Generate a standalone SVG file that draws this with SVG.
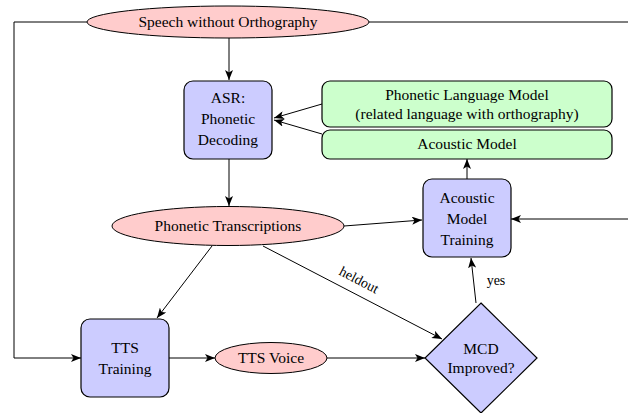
<svg xmlns="http://www.w3.org/2000/svg" width="628" height="413" viewBox="0 0 628 413">
<defs>
<marker id="arr" viewBox="0 0 10 8" refX="10" refY="4" markerWidth="10" markerHeight="8" markerUnits="userSpaceOnUse" orient="auto">
<path d="M0,0 L10,4 L0,8 L2.5,4 Z" fill="#000"/>
</marker>
</defs>
<style>
text{font-family:"Liberation Serif","DejaVu Serif",serif;font-size:15.5px;fill:#000;text-anchor:middle}
.ell{fill:#ffcccc;stroke:#000;stroke-width:1}
.box{fill:#ccccff;stroke:#000;stroke-width:1.2}
.grn{fill:#ccffcc;stroke:#000;stroke-width:1.2}
.c{fill:none;stroke:#000;stroke-width:1;marker-end:url(#arr)}
.p{fill:none;stroke:#000;stroke-width:1}
</style>
<g id="connectors">
<path class="p" d="M87,22 H14 V358"/>
<path class="c" d="M14,358 H81"/>
<path class="p" d="M369,22 H632 V219"/>
<path class="c" d="M632,219 H511"/>
<path class="c" d="M229,38 V80"/>
<path class="c" d="M322,104 L274,118"/>
<path class="c" d="M322,134 L274,120"/>
<path class="c" d="M229,159 V206"/>
<path class="c" d="M467,179 V159"/>
<path class="c" d="M344,226 L422,220"/>
<path class="c" d="M212,246 L157,318"/>
<path class="c" d="M263,246 L442,339"/>
<text x="357" y="284" transform="rotate(27.5 357 284)" style="font-size:14px">heldout</text>
<path class="c" d="M476,303 L471,258"/>
<text x="496" y="285" style="font-size:14px">yes</text>
<path class="c" d="M169,358 H215"/>
<path class="c" d="M327,358 H425"/>
</g>
<g id="speech">
<ellipse class="ell" cx="228" cy="22" rx="141" ry="16"/>
<text x="228" y="27">Speech without Orthography</text>
</g>
<g id="asr">
<rect class="box" x="184" y="81" width="88" height="78" rx="9"/>
<text x="228" y="103">ASR:</text>
<text x="228" y="124">Phonetic</text>
<text x="228" y="145">Decoding</text>
</g>
<g id="plm">
<rect class="grn" x="322" y="81" width="290" height="46" rx="8"/>
<text x="467" y="100">Phonetic Language Model</text>
<text x="467" y="119">(related language with orthography)</text>
</g>
<g id="am">
<rect class="grn" x="322" y="130" width="290" height="29" rx="8"/>
<text x="467" y="149">Acoustic Model</text>
</g>
<g id="pt">
<ellipse class="ell" cx="228" cy="226" rx="116" ry="19.5"/>
<text x="228" y="231">Phonetic Transcriptions</text>
</g>
<g id="amt">
<rect class="box" x="423" y="179" width="88" height="78" rx="9"/>
<text x="467" y="203">Acoustic</text>
<text x="467" y="224">Model</text>
<text x="467" y="245">Training</text>
</g>
<g id="tts">
<rect class="box" x="81" y="319" width="88" height="78" rx="9"/>
<text x="125" y="353">TTS</text>
<text x="125" y="374">Training</text>
</g>
<g id="voice">
<ellipse class="ell" cx="271" cy="358" rx="56" ry="15.5"/>
<text x="271" y="363">TTS Voice</text>
</g>
<g id="mcd">
<polygon class="box" points="481,303 537,358 481,413 425,358"/>
<text x="481" y="354">MCD</text>
<text x="481" y="373">Improved?</text>
</g>
</svg>
